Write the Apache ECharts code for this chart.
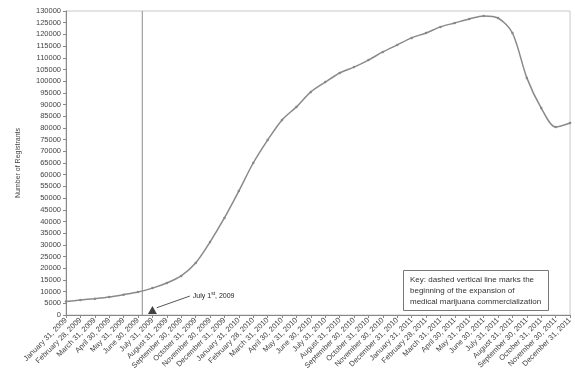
<!DOCTYPE html>
<html>
<head>
<meta charset="utf-8">
<script src="https://cdn.jsdelivr.net/npm/echarts@6/dist/echarts.min.js"></script>
<style>
  html, body { margin: 0; padding: 0; background: #fff; }
  #chart { width: 575px; height: 374px; }
</style>
</head>
<body>
<div id="chart"></div>
<script>
// month-end dates on the x axis
const months = [
  'January 31, 2009', 'February 28, 2009', 'March 31, 2009', 'April 30, 2009',
  'May 31, 2009', 'June 30, 2009', 'July 31, 2009', 'August 31, 2009',
  'September 30, 2009', 'October 31, 2009', 'November 30, 2009', 'December 31, 2009',
  'January 31, 2010', 'February 28, 2010', 'March 31, 2010', 'April 30, 2010',
  'May 31, 2010', 'June 30, 2010', 'July 31, 2010', 'August 31, 2010',
  'September 30, 2010', 'October 31, 2010', 'November 30, 2010', 'December 31, 2010',
  'January 31, 2011', 'February 28, 2011', 'March 31, 2011', 'April 30, 2011',
  'May 31, 2011', 'June 30, 2011', 'July 31, 2011', 'August 31, 2011',
  'September 30, 2011', 'October 31, 2011', 'November 30, 2011', 'December 31, 2011'
]

// number of registrants
const registrants = [
  5800, 6400, 7000, 7700, 8700, 9800, 11500, 13700, 16700, 22200, 31200, 41500,
  53000, 65000, 74800, 83400, 89000, 95400, 99600, 103500, 106000, 109000, 112500, 115500,
  118500, 120600, 123200, 124900, 126600, 127900, 127000, 120600, 101400, 88500, 80400, 82100
]

// July 1st 2009 marker position (in category steps) and the arrow annotation
const markerX = 5.3
const markerLine = [[markerX, 0], [markerX, 130000]]
const arrowTip = [6.0, 2100]
const arrowLine = [[6.3, 3100], [8.6, 8100]]
const arrowText = 'July 1{sup|st}, 2009'

const keyText = 'Key: dashed vertical line marks the\nbeginning of the expansion of\nmedical marijuana commercialization'

const chart = echarts.init(document.getElementById('chart'))

const font = 'Liberation Sans, Arial, sans-serif'

chart.setOption({
  animation: false,
  textStyle: { fontFamily: font },
  title: {
    text: keyText,
    left: 403,
    top: 270,
    padding: [4, 8, 4, 7],
    borderColor: '#777',
    borderWidth: 1,
    textStyle: {
      fontSize: 8,
      fontWeight: 'normal',
      color: '#333',
      lineHeight: 11,
      fontFamily: font
    }
  },
  grid: {
    left: 66,
    right: 3,
    top: 11,
    bottom: 59,
    show: true,
    borderColor: '#c8c8c8',
    borderWidth: 1
  },
  xAxis: [
    {
      type: 'category',
      data: months,
      boundaryGap: false,
      axisLine: { lineStyle: { color: '#888' } },
      axisTick: { length: 3, lineStyle: { color: '#888' } },
      axisLabel: {
        interval: 0,
        rotate: 45,
        fontSize: 7.5,
        color: '#444',
        margin: 4
      }
    },
    {
      type: 'value',
      min: 0,
      max: months.length - 1,
      show: false
    }
  ],
  yAxis: {
    type: 'value',
    min: 0,
    max: 130000,
    interval: 5000,
    name: 'Number of Registrants',
    nameLocation: 'middle',
    nameGap: 44,
    nameTextStyle: { fontSize: 7, color: '#444' },
    axisLine: { show: true, lineStyle: { color: '#888' } },
    axisTick: { show: true, length: 3, lineStyle: { color: '#888' } },
    axisLabel: { fontSize: 7.5, color: '#444', margin: 5, formatter: v => String(v) },
    splitLine: { show: false }
  },
  series: [
    {
      name: 'Registrants',
      type: 'line',
      data: registrants,
      smooth: 0.3,
      symbol: 'circle',
      symbolSize: 2.5,
      itemStyle: { color: '#888' },
      lineStyle: { color: '#8a8a8a', width: 1.5 },
      z: 3
    },
    {
      name: 'July 1, 2009',
      type: 'line',
      xAxisIndex: 1,
      data: markerLine,
      symbol: 'none',
      lineStyle: { color: '#a0a0a0', width: 1.2 },
      z: 2
    },
    {
      name: 'arrow',
      type: 'line',
      xAxisIndex: 1,
      data: arrowLine,
      symbol: 'none',
      lineStyle: { color: '#555', width: 1 },
      endLabel: {
        show: true,
        distance: 3,
        formatter: arrowText,
        fontSize: 7,
        color: '#222',
        rich: {
          sup: { fontSize: 5, color: '#222', padding: [0, 0, 4, 0] }
        }
      },
      z: 4
    },
    {
      name: 'arrowTip',
      type: 'scatter',
      xAxisIndex: 1,
      data: [arrowTip],
      symbol: 'triangle',
      symbolSize: [9, 8],
      itemStyle: { color: '#111' },
      z: 5
    }
  ]
})
</script>
</body>
</html>
